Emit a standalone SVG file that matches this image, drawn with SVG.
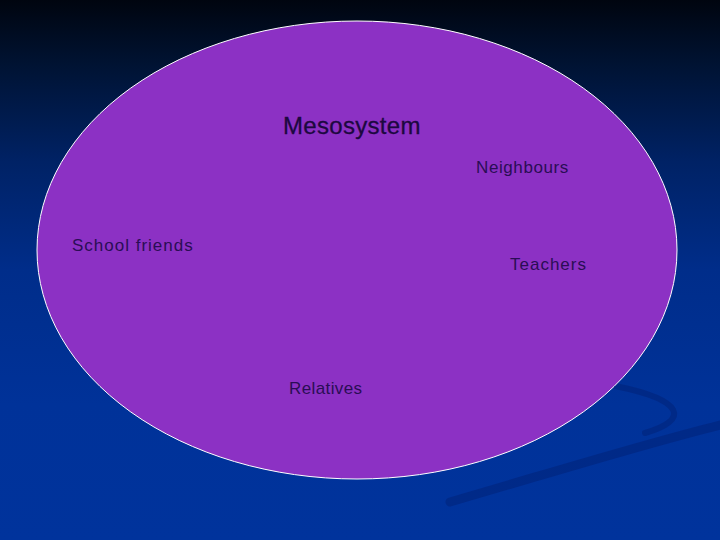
<svg xmlns="http://www.w3.org/2000/svg" width="720" height="540" viewBox="0 0 720 540">
<defs>
<linearGradient id="bg" x1="0" y1="0" x2="0" y2="1">
<stop offset="0" stop-color="#00050f"/>
<stop offset="0.12" stop-color="#001333"/>
<stop offset="0.3" stop-color="#002265"/>
<stop offset="0.5" stop-color="#002d8a"/>
<stop offset="0.75" stop-color="#003299"/>
<stop offset="1" stop-color="#00339c"/>
</linearGradient>
<style>
.lbl{font-family:"Liberation Sans",Arial,sans-serif;font-size:17px;fill:#2a0d55;letter-spacing:0.6px}
.title{font-family:"Liberation Sans",Arial,sans-serif;font-size:24px;fill:#1c0840;stroke:#1c0840;stroke-width:0.3;letter-spacing:0.3px}
.sw{fill:none;stroke:#001f70;stroke-linecap:round;opacity:0.45}
</style>
</defs>
<rect width="720" height="540" fill="url(#bg)"/>
<g id="swoosh">
<path class="sw" d="M450 502 C560 470 640 445 720 425" stroke-width="9"/>
<path class="sw" d="M615 386 C685 400 690 420 645 433" stroke-width="6"/>
</g>
<g id="mesosystem">
<ellipse cx="357" cy="250" rx="320" ry="229" fill="#8c31c4" stroke="#ffffff" stroke-width="1"/>
<text class="title" x="283" y="134">Mesosystem</text>
</g>
<g id="neighbours"><text class="lbl" x="476" y="173">Neighbours</text></g>
<g id="school-friends"><text class="lbl" x="72" y="251" style="letter-spacing:1px">School friends</text></g>
<g id="teachers"><text class="lbl" x="510" y="270" style="letter-spacing:1px">Teachers</text></g>
<g id="relatives"><text class="lbl" x="289" y="394" style="letter-spacing:0.4px">Relatives</text></g>
<g id="connectors"/>
</svg>
